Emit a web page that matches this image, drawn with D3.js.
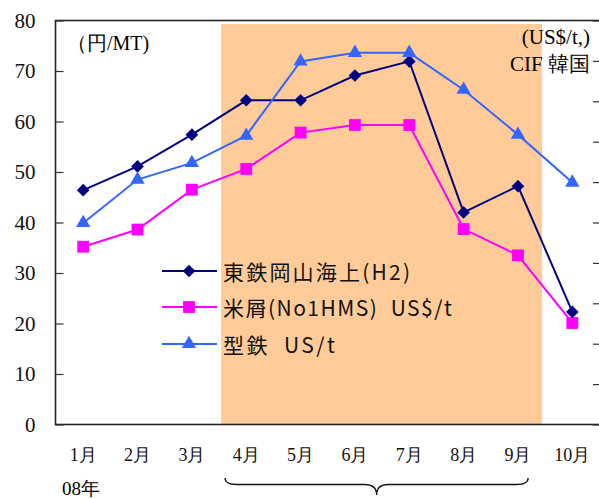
<!DOCTYPE html>
<html>
<head>
<meta charset="utf-8">
<script src="https://cdn.jsdelivr.net/npm/d3@7"></script>
<style>
  body { margin: 0; background: #fff; }
  .axis text { font-family: "Liberation Serif", "Times New Roman", serif; fill: #111; }
  .legend text { font-family: "Noto Sans CJK JP", sans-serif; fill: #111; }
</style>
</head>
<body>
<div class="chart"></div>
<script>

// data
const months = ["1月", "2月", "3月", "4月", "5月", "6月", "7月", "8月", "9月", "10月"];
const tohtetsu = [46.4, 51.1, 57.4, 64.2, 64.2, 69.1, 71.9, 42.0, 47.2, 22.3];   // 東鉄岡山海上(H2)
const scrap = [35.2, 38.6, 46.5, 50.6, 57.8, 59.3, 59.3, 38.7, 33.5, 20.1];      // 米屑(No1HMS) US$/t
const shapes = [39.9, 48.5, 51.8, 57.2, 71.9, 73.6, 73.6, 66.3, 57.4, 47.9];     // 型鉄 US/t
const leftTicks = [0, 10, 20, 30, 40, 50, 60, 70, 80];
const rightTicks = [0, 100, 200, 300, 400, 500, 600, 700, 800, 900, 1000];
const shadedMonths = ["4月", "9月"];
const seriesNames = ["東鉄岡山海上(H2)", "米屑(No1HMS)\u00a0\u00a0US$/t", "型鉄\u00a0\u00a0US/t"];

const width = 599, height = 498;
const plot = { left: 55.5, right: 600, top: 20.5, bottom: 424.5 };

let svg = d3.select(".chart").append("svg")
    .attr("width", width)
    .attr("height", height);

let xScale = d3.scaleBand()
    .domain(months)
    .range([56, 599.5]);

let yScale = d3.scaleLinear()
    .domain([0, 80])
    .range([plot.bottom, plot.top]);

// right axis: its labels fall outside the picture, only the ticks show
let yRight = d3.scaleLinear()
    .domain([0, 1000])
    .range([plot.bottom, plot.top]);

const cx = d => xScale(d) + xScale.bandwidth() / 2;

// orange period band (4月 - 9月)
let bandX0 = xScale(shadedMonths[0]) + 2,
    bandX1 = xScale(shadedMonths[1]) + xScale.bandwidth() - 3;
svg.append("rect")
    .attr("x", bandX0)
    .attr("y", plot.top + 3.5)
    .attr("width", bandX1 - bandX0)
    .attr("height", plot.bottom - plot.top - 3.5)
    .attr("fill", "#ffcc99");

// frame
svg.append("rect")
    .attr("x", plot.left)
    .attr("y", plot.top)
    .attr("width", plot.right - plot.left)
    .attr("height", plot.bottom - plot.top)
    .attr("fill", "none")
    .attr("stroke", "#222")
    .attr("stroke-width", 1.6);

let yAxis = d3.axisLeft(yScale)
    .tickValues(leftTicks)
    .tickSizeInner(-8)
    .tickSizeOuter(0)
    .tickPadding(20);

svg.append("g")
    .attr("class", "axis y-axis")
    .attr("transform", `translate(${plot.left},0)`)
    .call(yAxis)
    .call(g => g.select(".domain").remove())
    .call(g => g.selectAll("line").attr("stroke", "#333").attr("stroke-width", 1.2))
    .call(g => g.selectAll("text").attr("font-size", 21));

let yAxisRight = d3.axisRight(yRight)
    .tickValues(rightTicks)
    .tickSizeInner(-7)
    .tickSizeOuter(0)
    .tickFormat("");

svg.append("g")
    .attr("class", "axis y-axis-right")
    .attr("transform", `translate(${plot.right},0)`)
    .call(yAxisRight)
    .call(g => g.select(".domain").remove())
    .call(g => g.selectAll("text").remove())
    .call(g => g.selectAll("line").attr("stroke", "#333").attr("stroke-width", 1.2));

// month labels
let xAxis = d3.axisBottom(xScale)
    .tickSize(0)
    .tickPadding(24);

svg.append("g")
    .attr("class", "axis x-axis")
    .attr("transform", `translate(0,${plot.bottom})`)
    .call(xAxis)
    .call(g => g.select(".domain").remove())
    .call(g => g.selectAll("text").attr("font-size", 18));

svg.append("text")
    .attr("x", 62).attr("y", 488)
    .attr("dominant-baseline", "central")
    .attr("font-family", "Liberation Serif, serif")
    .attr("font-size", 19)
    .text("08年");

// unit labels
svg.append("text")
    .attr("x", 67).attr("y", 43)
    .attr("dominant-baseline", "central")
    .attr("font-family", "Liberation Serif, serif")
    .attr("font-size", 20)
    .text("（円/MT)");

svg.append("text")
    .attr("x", 590).attr("y", 37)
    .attr("text-anchor", "end")
    .attr("dominant-baseline", "central")
    .attr("font-family", "Liberation Serif, serif")
    .attr("font-size", 21)
    .text("(US$/t,)");

svg.append("text")
    .attr("x", 590).attr("y", 64)
    .attr("text-anchor", "end")
    .attr("dominant-baseline", "central")
    .attr("font-family", "Liberation Serif, serif")
    .attr("font-size", 21)
    .text("CIF 韓国");

// brace under 4月-9月
let bx0 = bandX0 + 4, bx1 = bandX1 - 14, bm = (bx0 + bx1) / 2;
svg.append("path")
    .attr("d", `M${bx0},478 Q${bx0},484.5 ${bx0 + 12},484.5 L${bm - 12},484.5 Q${bm},484.5 ${bm},495
               Q${bm},484.5 ${bm + 12},484.5 L${bx1 - 12},484.5 Q${bx1},484.5 ${bx1},478`)
    .attr("fill", "none")
    .attr("stroke", "#111")
    .attr("stroke-width", 1.3);

// series
const series = [
    { name: seriesNames[1], values: scrap, color: "#ff00ff", symbol: d3.symbolSquare, size: 140, rotate: 0 },
    { name: seriesNames[0], values: tohtetsu, color: "#000080", symbol: d3.symbolSquare, size: 80, rotate: 45 },
    { name: seriesNames[2], values: shapes, color: "#3366ff", symbol: d3.symbolTriangle, size: 88, rotate: 0 }
];

let line = d3.line()
    .x((d, i) => cx(months[i]))
    .y(d => yScale(d));

series.forEach(s => {
    let g = svg.append("g").attr("class", "series");
    g.append("path")
        .datum(s.values)
        .attr("fill", "none")
        .attr("stroke", s.color)
        .attr("stroke-width", 2)
        .attr("d", line);
    g.selectAll(".mark")
        .data(s.values)
        .join("path")
        .attr("class", "mark")
        .attr("d", d3.symbol().type(s.symbol).size(s.size))
        .attr("fill", s.color)
        .attr("transform", (d, i) => `translate(${cx(months[i])},${yScale(d)}) rotate(${s.rotate})`);
});

// legend
const legendOrder = [series[1], series[0], series[2]];
const legendRows = [271, 307, 344];
const legendWidths = [187, 229, 112];
let legend = svg.append("g").attr("class", "legend");
legendOrder.forEach((s, i) => {
    let y = legendRows[i];
    legend.append("line")
        .attr("x1", 162).attr("x2", 217)
        .attr("y1", y).attr("y2", y)
        .attr("stroke", s.color)
        .attr("stroke-width", 2);
    legend.append("path")
        .attr("d", d3.symbol().type(s.symbol).size(s.size))
        .attr("fill", s.color)
        .attr("transform", `translate(189,${y}) rotate(${s.rotate})`);
    legend.append("text")
        .attr("x", 223).attr("y", y)
        .attr("dominant-baseline", "central")
        .attr("font-size", 21)
        .attr("textLength", legendWidths[i])
        .attr("lengthAdjust", "spacing")
        .text(s.name);
});

</script>
</body>
</html>
